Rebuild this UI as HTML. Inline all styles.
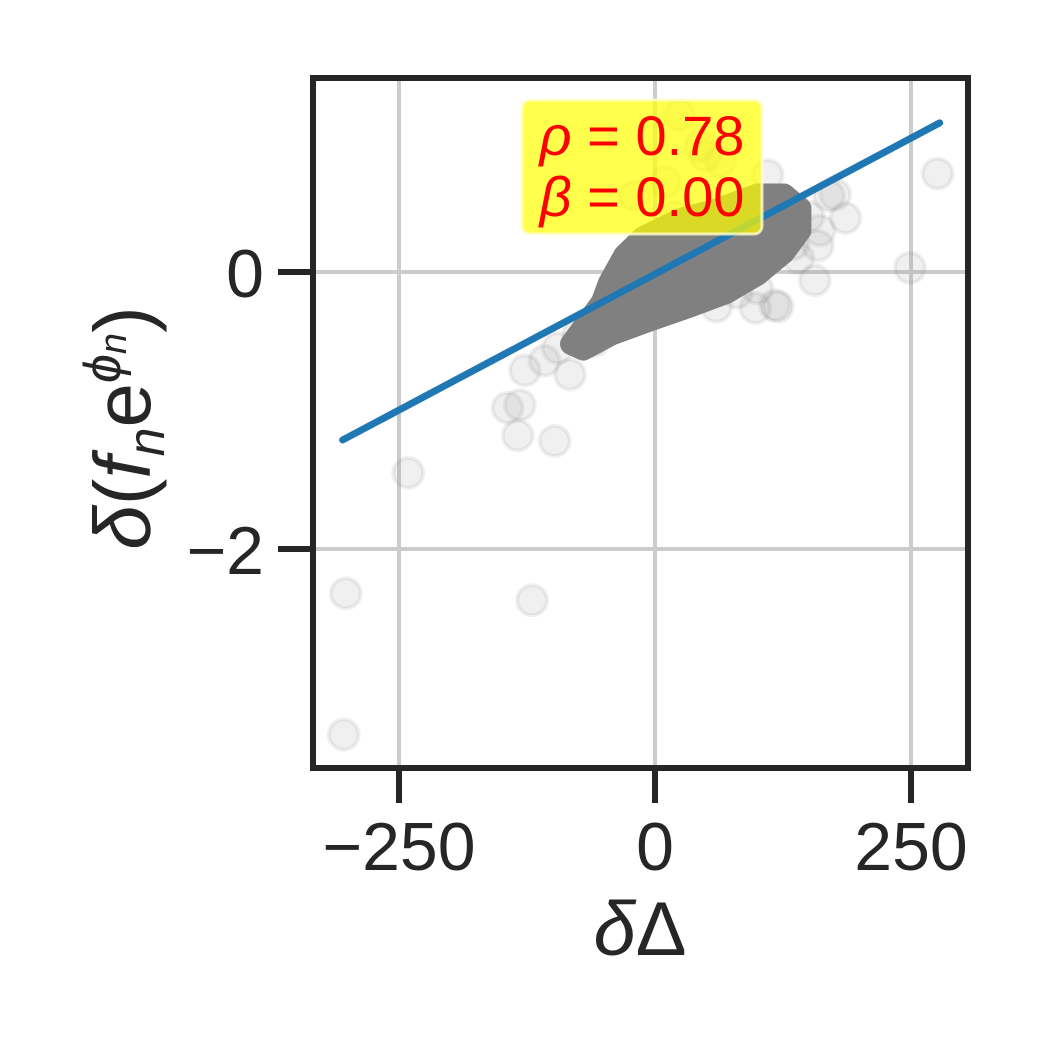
<!DOCTYPE html>
<html><head><meta charset="utf-8"><style>
html,body{margin:0;padding:0;background:#fff;}
svg{display:block;font-family:"Liberation Sans","DejaVu Sans",sans-serif;}
</style></head><body>
<svg id="chart" width="1050" height="1050" viewBox="0 0 1050 1050" xmlns="http://www.w3.org/2000/svg"></svg>
<script>
const xTicks = [-250, 0, 250];
const yTicks = [0, -2];
const xTickLabels = ["\u2212250", "0", "250"];
const yTickLabels = ["0", "\u22122"];
// dense core outline (data coords)
const coreX = [-82, -52, -45, -30, -12, 24, 63, 100, 126, 142, 142, 126, 100, 70, 34, -5, -42, -70];
const coreY = [-0.52, -0.22, -0.08, 0.12, 0.25, 0.38, 0.46, 0.56, 0.56, 0.46, 0.30, 0.14, -0.02, -0.15, -0.25, -0.35, -0.45, -0.56];
// outlier points
const ptX = [-241, -302, -304, -120, -98, -134, -132, -144, -127, -108, -83, 249, 276, 186, 176, 159, 156, 117, 98, 161, 49, 24, 44, 64, -60, -40, 80, 120, 140, 170, 110, -20, 10, -95, -75, -60, 150, 135, 100, 60, 20];
const ptY = [-1.45, -2.32, -3.34, -2.37, -1.22, -1.18, -0.96, -0.98, -0.71, -0.64, -0.74, 0.03, 0.71, 0.39, 0.56, 0.19, -0.06, -0.24, -0.26, 0.30, 0.84, 1.13, 0.91, 0.80, -0.40, -0.30, -0.15, -0.25, 0.10, 0.55, 0.70, 0.55, 0.65, -0.55, -0.45, -0.50, 0.40, 0.20, -0.12, -0.25, 0.40];
const fitSlope = 0.003927;
const fitIntercept = -0.015;
const fitRange = [-305, 278];
const rho = "0.78", beta = "0.00";

const NS = "http://www.w3.org/2000/svg";
const svg = document.getElementById("chart");
const L = 313, R = 968, T = 78, B = 768;
function sx(v){ return 655 + v * 1.024; }
function sy(v){ return 272 - v * 138.5; }
function mk(tag, attrs, parent){
  const e = document.createElementNS(NS, tag);
  for (const k in attrs) e.setAttribute(k, attrs[k]);
  (parent || svg).appendChild(e);
  return e;
}
xTicks.forEach((t) => {
  const g = mk("line", {x1: sx(t), x2: sx(t), y1: T, y2: B, stroke: "#cccccc", "stroke-width": 4});
  
  
});
yTicks.forEach((t) => {
  const g = mk("line", {x1: L, x2: R, y1: sy(t), y2: sy(t), stroke: "#cccccc", "stroke-width": 4});
  
  
});
// points
ptX.forEach((x, i) => {
  const c = mk("circle", {cx: sx(x), cy: sy(ptY[i]), r: 15, fill: "rgba(128,128,128,0.12)", stroke: "rgba(128,128,128,0.12)", "stroke-width": 4});
  
  
});
// core
const pts = coreX.map((x, i) => sx(x) + "," + sy(coreY[i])).join(" ");
const core = mk("polygon", {points: pts, fill: "#808080", stroke: "#808080", "stroke-width": 22, "stroke-linejoin": "round"});


// fit line
const fl = mk("line", {x1: sx(fitRange[0]), y1: sy(fitIntercept + fitSlope * fitRange[0]), x2: sx(fitRange[1]), y2: sy(fitIntercept + fitSlope * fitRange[1]), stroke: "#1f77b4", "stroke-width": 7, "stroke-linecap": "round"});


// annotation
const ab = mk("rect", {x: 522, y: 100, width: 240, height: 134, rx: 8, fill: "rgba(255,255,0,0.7)", stroke: "rgba(255,255,200,0.8)", "stroke-width": 3});


const t1 = mk("text", {x: 642, y: 155, "text-anchor": "middle", "font-size": 56, fill: "#ff0000"});
t1.innerHTML = '<tspan font-style="italic">\u03C1</tspan> = ' + rho;


const t2 = mk("text", {x: 642, y: 216, "text-anchor": "middle", "font-size": 56, fill: "#ff0000"});
t2.innerHTML = '<tspan font-style="italic">\u03B2</tspan> = ' + beta;


// spines
const sp = mk("rect", {x: L, y: T, width: R - L, height: B - T, fill: "none", stroke: "#262626", "stroke-width": 6});


xTicks.forEach((t, i) => {
  const tk = mk("line", {x1: sx(t), x2: sx(t), y1: B, y2: B + 35, stroke: "#262626", "stroke-width": 6});
  
  
  const lb = mk("text", {x: sx(t), y: 870, "text-anchor": "middle", "font-size": 68, fill: "#262626"});
  lb.textContent = xTickLabels[i];
  
  
});
yTicks.forEach((t, i) => {
  const tk = mk("line", {x1: L - 35, x2: L, y1: sy(t), y2: sy(t), stroke: "#262626", "stroke-width": 6});
  
  
  const lb = mk("text", {x: 264, y: sy(t) + 25, "text-anchor": "end", "font-size": 68, fill: "#262626"});
  lb.textContent = yTickLabels[i];
  
  
});
const xt = mk("text", {x: 640, y: 955, "text-anchor": "middle", "font-size": 76, fill: "#262626"});
xt.innerHTML = '<tspan font-style="italic">\u03B4</tspan>\u0394';


const yt = mk("text", {x: 0, y: 0, "text-anchor": "middle", "font-size": 80, fill: "#262626", transform: "translate(150,428) rotate(-90)"});
yt.innerHTML = '<tspan font-style="italic">\u03B4</tspan>(<tspan font-style="italic">f</tspan><tspan font-style="italic" font-size="52" dy="14">n</tspan><tspan dy="-14">e</tspan><tspan font-style="italic" font-size="52" dy="-30">\u03D5</tspan><tspan font-style="italic" font-size="38" dy="6">n</tspan><tspan dy="24">)</tspan>';


</script>
</body></html>
